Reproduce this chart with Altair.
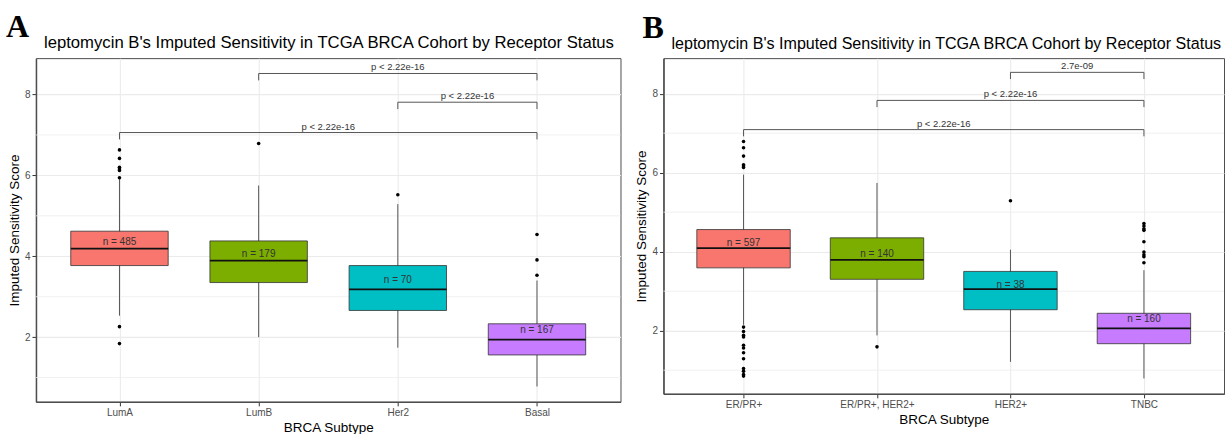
import json
import altair as alt
import pandas as pd

TITLE = "leptomycin B's Imputed Sensitivity in TCGA BRCA Cohort by Receptor Status"
Y_TITLE = "Imputed Sensitivity Score"
X_TITLE = "BRCA Subtype"
COLORS = ["#F8766D", "#7CAE00", "#00BFC4", "#C77CFF"]

# ---------------- Panel A (PAM50 subtypes) ----------------
cats_a = ["LumA", "LumB", "Her2", "Basal"]
q1_a = [3.77, 3.35, 2.66, 1.56]
med_a = [4.19, 3.89, 3.18, 1.94]
q3_a = [4.62, 4.38, 3.77, 2.33]
wlo_a = [2.53, 2.00, 1.74, 0.78]
whi_a = [5.90, 5.75, 5.29, 3.40]
out_a = {
    "LumA": [6.63, 6.42, 6.20, 6.16, 6.12, 5.94, 2.26, 1.84],
    "LumB": [6.79],
    "Her2": [5.52],
    "Basal": [4.54, 3.91, 3.53],
}
n_a = [485, 179, 70, 167]
ny_a = [4.36, 4.05, 3.42, 2.17]
br_from_a = ["LumB", "Her2", "LumA"]
br_to_a = ["Basal", "Basal", "Basal"]
br_y_a = [8.52, 7.81, 7.06]
br_lab_a = ["p < 2.22e-16", "p < 2.22e-16", "p < 2.22e-16"]

# ---------------- Panel B (receptor status) ----------------
cats_b = ["ER/PR+", "ER/PR+, HER2+", "HER2+", "TNBC"]
q1_b = [3.59, 3.30, 2.53, 1.67]
med_b = [4.09, 3.79, 3.05, 2.06]
q3_b = [4.56, 4.35, 3.50, 2.44]
wlo_b = [2.15, 1.88, 1.21, 0.79]
whi_b = [5.95, 5.74, 4.05, 3.53]
out_b = {
    "ER/PR+": [6.79, 6.63, 6.42, 6.20, 6.17, 6.13, 2.09, 1.98, 1.88, 1.84,
               1.63, 1.56, 1.44, 1.29, 1.04, 0.97, 0.89, 0.85],
    "ER/PR+, HER2+": [1.59],
    "HER2+": [5.29],
    "TNBC": [4.71, 4.65, 4.58, 4.54, 4.25, 3.99, 3.92, 3.87, 3.72],
}
n_b = [597, 140, 38, 160]
ny_b = [4.23, 3.95, 3.16, 2.29]
br_from_b = ["HER2+", "ER/PR+, HER2+", "ER/PR+"]
br_to_b = ["TNBC", "TNBC", "TNBC"]
br_y_b = [8.54, 7.83, 7.09]
br_lab_b = ["2.7e-09", "p < 2.22e-16", "p < 2.22e-16"]

Y_MAJOR = [2, 4, 6, 8]
Y_MINOR = [1, 3, 5, 7]
Y_DOMAIN = [0.4, 8.9]
TICK_LEN = 0.17
HALF_BOX = 0.35


def panel(letter, cats, q1, med, q3, wlo, whi, outs, n, ny,
          bfrom, bto, by, blab, width, height, letter_xy, title_xy, title_size, lab_size):
    idx = {c: i + 1 for i, c in enumerate(cats)}
    box = pd.DataFrame({
        "cat": cats,
        "idx": [idx[c] for c in cats],
        "q1": q1, "med": med, "q3": q3, "wlo": wlo, "whi": whi,
        "lab": [f"n = {v}" for v in n], "ny": ny,
    })
    box["lo"] = box["idx"] - HALF_BOX
    box["hi"] = box["idx"] + HALF_BOX
    pts = pd.DataFrame([(idx[c], v) for c in cats for v in outs[c]], columns=["idx", "v"])
    br = pd.DataFrame({"a": [idx[c] for c in bfrom], "b": [idx[c] for c in bto],
                       "y": by, "lab": blab})
    br["mid"] = (br["a"] + br["b"]) / 2
    br["ylo"] = br["y"] - TICK_LEN
    br_ends = pd.concat([br[["a", "y", "ylo"]].rename(columns={"a": "x"}),
                         br[["b", "y", "ylo"]].rename(columns={"b": "x"})])

    xscale = alt.Scale(domain=[0.4, 4.6], nice=False, zero=False)
    xaxis = alt.Axis(values=[1, 2, 3, 4], title=X_TITLE,
                     labelExpr=f"{json.dumps([''] + cats)}[datum.value]",
                     grid=True, gridColor="#EBEBEB", gridWidth=1.1,
                     tickSize=4, tickColor="#333333", labelPadding=2,
                     labelFontSize=lab_size, labelColor="#4D4D4D", labelFont="Liberation Sans",
                     titleFont="Liberation Sans", titleFontSize=13.5, titleFontWeight="normal",
                     titleColor="#000000", titlePadding=3,
                     domainColor="#4D4D4D", domainWidth=1.5)
    yscale = alt.Scale(domain=Y_DOMAIN, nice=False, zero=False)
    yaxis = alt.Axis(values=Y_MAJOR, title=Y_TITLE,
                     grid=True, gridColor="#EBEBEB", gridWidth=1.1,
                     tickSize=4, tickColor="#333333", labelPadding=2,
                     labelFontSize=10, labelColor="#4D4D4D", labelFont="Liberation Sans",
                     titleFont="Liberation Sans", titleFontSize=13.5, titleFontWeight="normal",
                     titleColor="#000000", titlePadding=3,
                     domainColor="#4D4D4D", domainWidth=1.5)

    def X(f):
        return alt.X(f, type="quantitative", scale=xscale, axis=xaxis)

    def Y(f):
        return alt.Y(f, type="quantitative", scale=yscale, axis=yaxis)

    minor = alt.Chart(pd.DataFrame({"v": Y_MINOR})).mark_rule(
        color="#EDEDED", strokeWidth=0.8).encode(y=Y("v"))
    whisk = alt.Chart(box).mark_rule(color="#555555", strokeWidth=1).encode(
        x=X("idx"), y=Y("wlo"), y2="whi")
    boxes = alt.Chart(box).mark_bar(stroke="#333333", strokeWidth=0.8, opacity=1).encode(
        x=X("lo"), x2="hi", y=Y("q1"), y2="q3",
        color=alt.Color("cat:N", scale=alt.Scale(domain=cats, range=COLORS), legend=None))
    meds = alt.Chart(box).mark_rule(color="#111111", strokeWidth=1.8).encode(
        x=X("lo"), x2="hi", y=Y("med"))
    outl = alt.Chart(pts).mark_circle(size=13, color="#000000", opacity=1).encode(
        x=X("idx"), y=Y("v"))
    nlab = alt.Chart(box).mark_text(font="Liberation Sans", fontSize=10, color="#333333",
                                    baseline="middle").encode(
        x=X("idx"), y=Y("ny"), text="lab:N")
    brh = alt.Chart(br).mark_rule(color="#555555", strokeWidth=1).encode(
        x=X("a"), x2="b", y=Y("y"))
    brv = alt.Chart(br_ends).mark_rule(color="#555555", strokeWidth=1).encode(
        x=X("x"), y=Y("y"), y2="ylo")
    brt = alt.Chart(br).mark_text(font="Liberation Sans", fontSize=9.5, color="#333333",
                                  baseline="middle", dy=-6).encode(
        x=X("mid"), y=Y("y"), text="lab:N")
    let = alt.Chart(pd.DataFrame({"t": [letter]})).mark_text(
        font="Liberation Serif", fontWeight="bold", fontSize=32, color="#000000",
        align="left", baseline="alphabetic").encode(
        x=alt.value(letter_xy[0]), y=alt.value(letter_xy[1]), text="t:N")
    ttl = alt.Chart(pd.DataFrame({"t": [TITLE]})).mark_text(
        font="Liberation Sans", fontSize=title_size, color="#000000",
        align="left", baseline="alphabetic").encode(
        x=alt.value(title_xy[0]), y=alt.value(title_xy[1]), text="t:N")
    return alt.layer(minor, whisk, boxes, meds, outl, nlab, brh, brv, brt, let, ttl).properties(
        width=width, height=height)


pa = panel("A", cats_a, q1_a, med_a, q3_a, wlo_a, whi_a, out_a, n_a, ny_a,
           br_from_a, br_to_a, br_y_a, br_lab_a, 585, 344, (-30, -21), (8, -10), 16.7, 10)
pb = panel("B", cats_b, q1_b, med_b, q3_b, wlo_b, whi_b, out_b, n_b, ny_b,
           br_from_b, br_to_b, br_y_b, br_lab_b, 561, 336, (-21, -20), (8, -9), 16.1, 10)

chart = alt.hconcat(pa, pb, spacing=12).properties(
    padding={"left": 5, "top": 10, "right": 0, "bottom": 0},
    background="white",
).configure_view(stroke="#4D4D4D", strokeWidth=1)

chart.save("out.html", embed_options={"renderer": "svg", "actions": False})
